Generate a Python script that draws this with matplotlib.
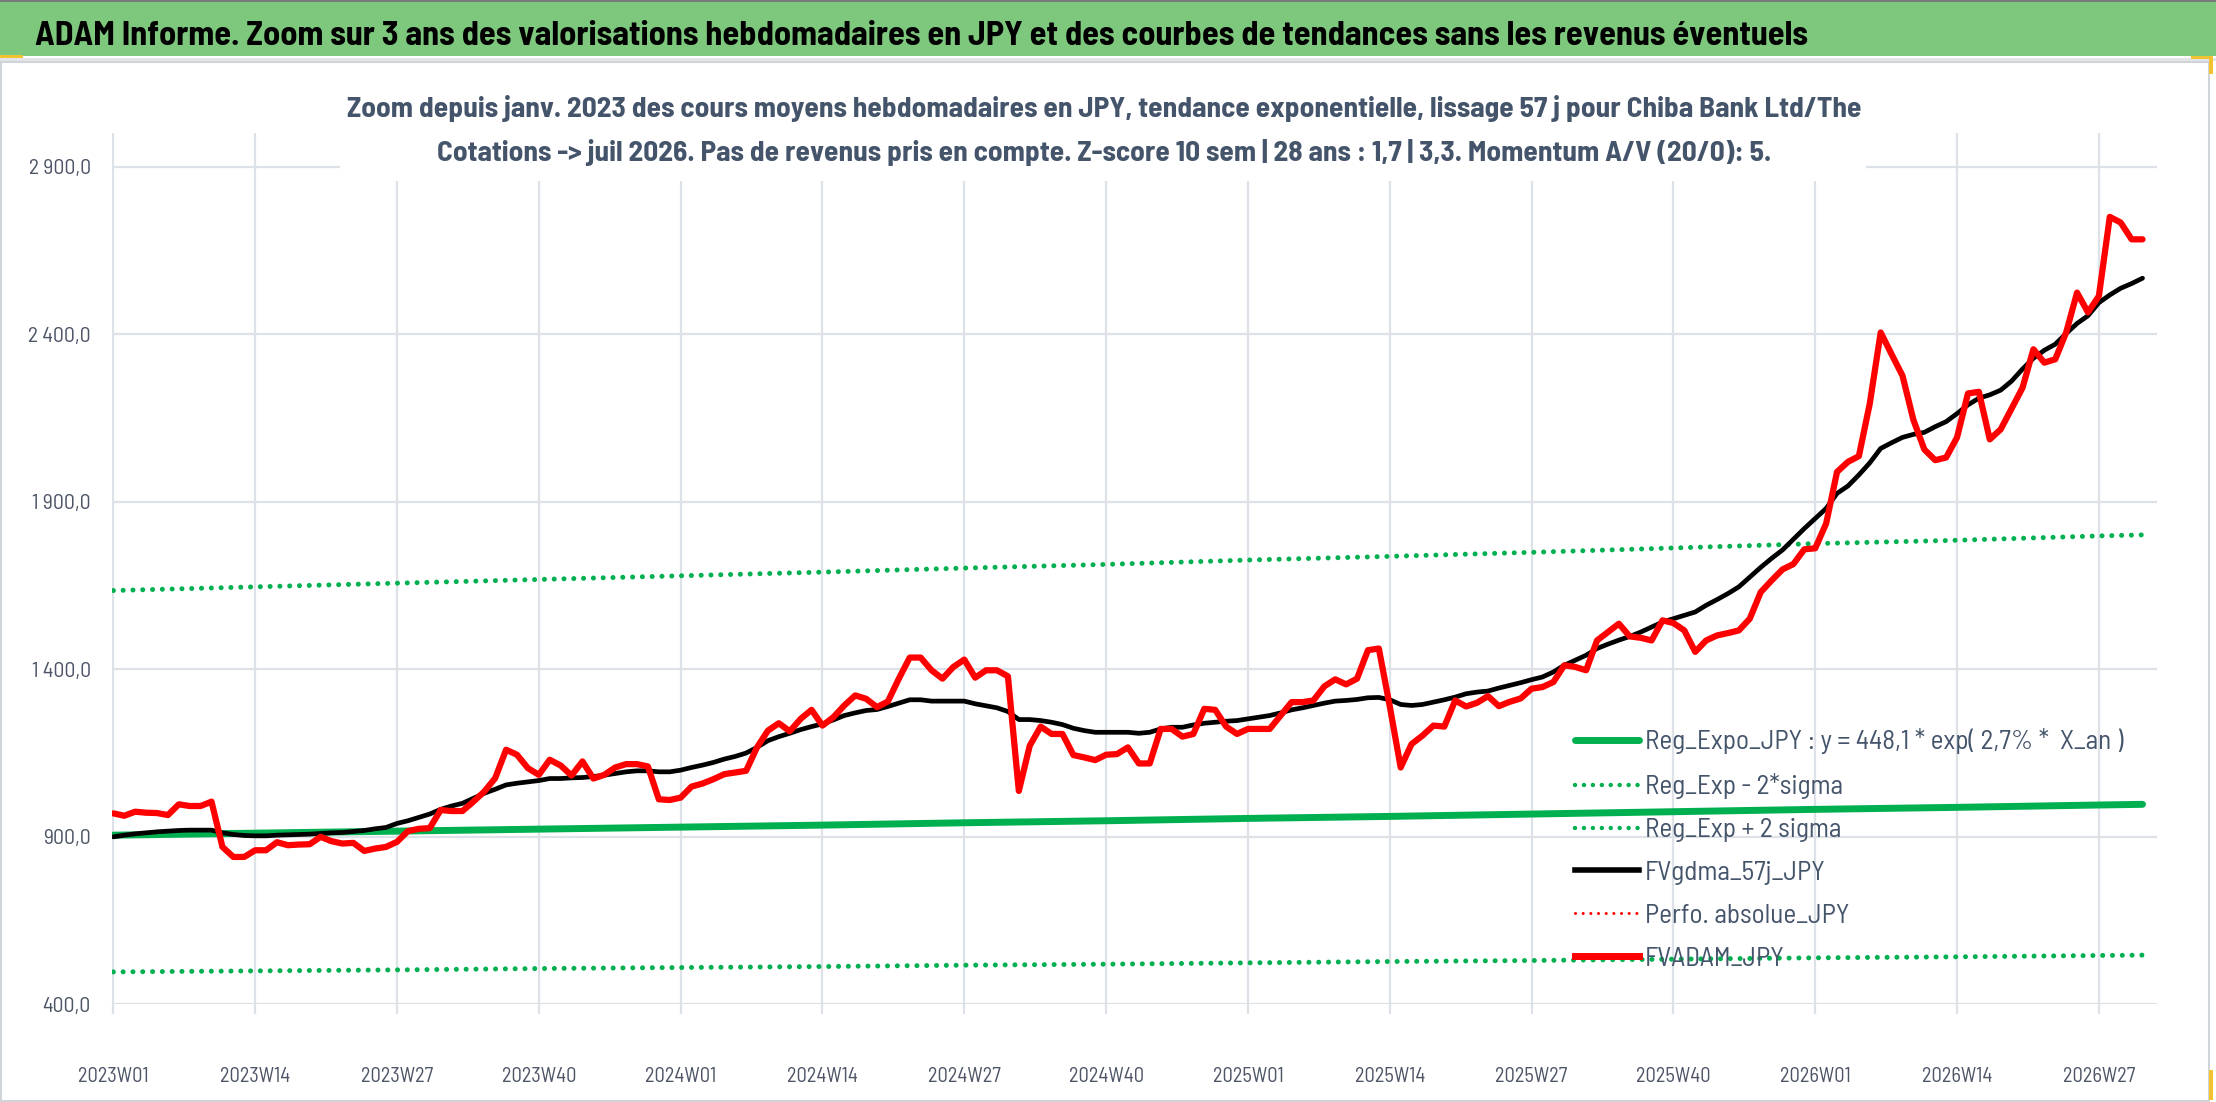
import os
import matplotlib
matplotlib.use("Agg")
import matplotlib.pyplot as plt
from matplotlib.patches import Rectangle
from matplotlib.lines import Line2D
from matplotlib.ticker import FuncFormatter, FixedLocator
from matplotlib import font_manager
from matplotlib.font_manager import FontProperties

# ---------------- data ----------------
tick_labels = ["2023W01", "2023W14", "2023W27", "2023W40", "2024W01", "2024W14",
               "2024W27", "2024W40", "2025W01", "2025W14", "2025W27", "2025W40",
               "2026W01", "2026W14", "2026W27"]

fvadam_jpy = [
    970, 963, 975, 972, 971, 965, 997, 992, 992, 1005,
    870, 840, 840, 860, 860, 884, 875, 877, 878, 900,
    887, 880, 882, 858, 865, 870, 885, 917, 924, 926,
    980, 977, 977, 1005, 1035, 1075, 1160, 1145, 1105, 1085,
    1130, 1113, 1083, 1125, 1074, 1085, 1107, 1117, 1117, 1110,
    1012, 1010, 1017, 1050, 1059, 1072, 1087, 1092, 1097, 1167,
    1217, 1239, 1215, 1252, 1279, 1232, 1257, 1292, 1322, 1312,
    1287, 1304, 1372, 1435, 1435, 1397, 1372, 1407, 1429, 1375,
    1397, 1397, 1379, 1037, 1172, 1229, 1207, 1207, 1144, 1137,
    1129, 1145, 1147, 1167, 1119, 1119, 1222, 1222, 1199, 1207,
    1282, 1279, 1229, 1207, 1222, 1222, 1222, 1262, 1302, 1302,
    1307, 1349, 1370, 1355, 1372, 1457, 1462, 1290, 1107, 1177,
    1202, 1232, 1229, 1307, 1289, 1300, 1320, 1290, 1303, 1313,
    1342, 1347, 1362, 1412, 1407, 1397, 1486, 1511, 1536, 1498,
    1494, 1486, 1546, 1538, 1516, 1452, 1486, 1501, 1508, 1516,
    1551, 1630, 1665, 1698, 1714, 1758, 1761, 1835, 1989, 2019,
    2036, 2193, 2405, 2340, 2276, 2144, 2056, 2024, 2032, 2092,
    2223, 2228, 2086, 2116, 2178, 2240, 2355, 2315, 2325, 2405,
    2524, 2465, 2514, 2750, 2733, 2683, 2683,
]

fvgdma_57j_jpy = [
    900, 905, 909, 912, 915, 917, 919, 920, 920, 920,
    912, 907, 904, 903, 903, 905, 906, 907, 908, 910,
    912, 913, 916, 919, 924, 928, 940, 948, 958, 968,
    982, 992, 1000, 1015, 1030, 1042, 1055, 1060, 1064, 1068,
    1074, 1074, 1076, 1077, 1080, 1084, 1089, 1094, 1097, 1097,
    1094, 1094, 1099, 1107, 1114, 1122, 1132, 1140, 1150, 1167,
    1187, 1199, 1209, 1220, 1229, 1237, 1249, 1262, 1270, 1277,
    1280, 1289, 1299, 1309, 1309, 1305, 1305, 1305, 1305, 1297,
    1291, 1285, 1274, 1250, 1250, 1247, 1242, 1235, 1224, 1217,
    1212, 1212, 1212, 1212, 1209, 1212, 1222, 1227, 1227, 1234,
    1239, 1242, 1245, 1247, 1252, 1257, 1262, 1270, 1279, 1285,
    1292, 1299, 1305, 1307, 1310, 1315, 1316, 1309, 1295, 1292,
    1295, 1302, 1309, 1317, 1327, 1332, 1335, 1344, 1352, 1360,
    1369, 1377, 1392, 1412, 1427, 1442, 1462, 1475, 1487, 1498,
    1511, 1526, 1541, 1551, 1561, 1571, 1591, 1608, 1626, 1646,
    1675, 1704, 1731, 1756, 1788, 1820, 1850, 1880, 1925, 1947,
    1980, 2016, 2059, 2076, 2092, 2101, 2107, 2124, 2139, 2163,
    2189, 2209, 2219, 2233, 2260, 2296, 2328, 2352, 2370, 2402,
    2432, 2455, 2494, 2517, 2537, 2551, 2567,
]

# trend lines read at the tick weeks and at the last week
trend_week_idx = [0, 13, 26, 39, 52, 65, 78, 91, 104, 117, 130, 143, 156, 169, 182, 186]
reg_expo_jpy = [905, 911, 917, 923, 929, 935, 942, 948, 955, 961, 968, 975, 982, 988, 995, 997]
reg_minus_2sigma = [497, 500, 503, 507, 510, 513, 517, 520, 524, 528, 531, 535, 539, 542, 546, 547]
reg_plus_2sigma = [1635, 1646, 1657, 1668, 1679, 1690, 1702, 1713, 1726, 1737, 1749, 1762, 1775, 1785, 1798, 1801]

legend_labels = ["Reg_Expo_JPY : y = 448,1 * exp( 2,7% *  X_an )",
                 "Reg_Exp - 2*sigma", "Reg_Exp + 2 sigma", "FVgdma_57j_JPY",
                 "Perfo. absolue_JPY", "FVADAM_JPY"]

title_text = ("ADAM Informe. Zoom sur 3 ans des valorisations hebdomadaires en JPY "
              "et des courbes de tendances sans les revenus éventuels")
subtitle_1 = ("Zoom depuis janv. 2023 des cours moyens hebdomadaires en JPY, tendance "
              "exponentielle, lissage 57 j pour Chiba Bank Ltd/The")
subtitle_2 = ("Cotations -> juil 2026. Pas de revenus pris en compte. Z-score 10 sem | "
              "28 ans : 1,7 | 3,3. Momentum A/V (20/0): 5.")


# ---------------- fonts (narrow, Calibri-like if available) ----------------
def find_narrow(bold):
    found = []
    for f in font_manager.fontManager.ttflist:
        b = os.path.basename(f.fname).lower()
        if not b.endswith((".ttf", ".otf")):
            continue
        if "italic" in b or "oblique" in b:
            continue
        is_bold = "bold" in b and "semibold" not in b and "extrabold" not in b
        if bold != is_bold:
            continue
        if not bold and any(k in b for k in ("light", "thin", "medium", "black",
                                              "semibold", "extrabold")):
            continue
        if "semicondensed" in b or "semi-condensed" in b:
            score = 0
        elif "narrow" in b:
            score = 1
        elif "condensed" in b and "extra" not in b and "ultra" not in b:
            score = 2
        else:
            continue
        if "mono" in b or ("serif" in b and "sans" not in b):
            continue
        found.append((score, b, f.fname))
    found.sort()
    return found[0][2] if found else None


reg_path = find_narrow(False)
bold_path = find_narrow(True)


def fp(bold=False, size=12):
    path = bold_path if bold else reg_path
    if path:
        return FontProperties(fname=path, size=size)
    return FontProperties(family=["Roboto", "DejaVu Sans"],
                          weight="bold" if bold else "normal", size=size)


GREEN = "#00B050"
RED = "#FF0000"
GRID = "#dde1e8"
TXT = "#44546A"
TICK = "#4d5566"

W, H = 2216, 1102
fig = plt.figure(figsize=(W / 100, H / 100), dpi=100)
fig.patch.set_facecolor("white")
renderer = fig.canvas.get_renderer()


def fit(s, target_px, bold=False):
    t = fig.text(0, 0, s, fontproperties=fp(bold, 20))
    w = t.get_window_extent(renderer).width
    t.remove()
    return 20 * target_px / w


title_size = fit(title_text, 1769, True)
sub_size = fit(subtitle_1, 1512, True)
leg_size = fit("Reg_Exp - 2*sigma", 198)
ytick_size = fit("2 900,0", 62)
xtick_size = fit("2023W01", 71)

# title bar
fig.add_artist(Rectangle((0, 1 - 56 / H), 1, 55 / H, transform=fig.transFigure,
                         facecolor="#7ec87e", edgecolor="none", zorder=0))
fig.add_artist(Rectangle((0, 1 - 1.5 / H), 1, 1.5 / H, transform=fig.transFigure,
                         facecolor="#7a7a7a", edgecolor="none", zorder=0.1))
fig.add_artist(Rectangle((0, 1 - 61 / H), 1, 3 / H, transform=fig.transFigure,
                         facecolor="#e3e5e8", edgecolor="none", zorder=0))
fig.add_artist(Rectangle((0, 1 - 58 / H), 23 / W, 3 / H, transform=fig.transFigure,
                         facecolor="#f2c230", edgecolor="none", zorder=0.5))
fig.add_artist(Rectangle((2191 / W, 1 - 59 / H), 22 / W, 3 / H, transform=fig.transFigure,
                         facecolor="#f2c230", edgecolor="none", zorder=0.5))
fig.add_artist(Rectangle((2209 / W, 1 - 74 / H), 4 / W, 16 / H, transform=fig.transFigure,
                         facecolor="#f2c230", edgecolor="none", zorder=0.5))
fig.text(35 / W, 1 - 33 / H, title_text, ha="left", va="center_baseline",
         fontproperties=fp(True, title_size), color="black")

# chart border
fig.add_artist(Rectangle((1 / W, 1 / H), 2208 / W, 1 - 63 / H, transform=fig.transFigure,
                         facecolor="none", edgecolor="#d0d3d8", lw=1.5, zorder=0.2))
fig.add_artist(Rectangle((2209 / W, 2 / H), 4 / W, 30 / H, transform=fig.transFigure,
                         facecolor="#f2c230", edgecolor="none", zorder=0.5))

x_left, x_right = 111.7, 2156.7
y_top, y_bot = 133.1, 1004.4
ax = fig.add_axes([x_left / W, 1 - y_bot / H, (x_right - x_left) / W, (y_bot - y_top) / H])
ax.set_facecolor("none")

weeks = list(range(len(fvadam_jpy)))

dot = (0, (0.01, 1.95))
ax.plot(trend_week_idx, reg_expo_jpy, color=GREEN, lw=5.0, solid_capstyle="round", zorder=3)
ax.plot(trend_week_idx, reg_minus_2sigma, color=GREEN, lw=3.6, linestyle=dot,
        dash_capstyle="round", zorder=3)
ax.plot(trend_week_idx, reg_plus_2sigma, color=GREEN, lw=3.6, linestyle=dot,
        dash_capstyle="round", zorder=3)
ax.plot(weeks, fvgdma_57j_jpy, color="black", lw=3.4, solid_joinstyle="round",
        solid_capstyle="round", zorder=4)
ax.plot(weeks, fvadam_jpy, color=RED, lw=4.5, solid_joinstyle="round",
        solid_capstyle="round", zorder=5)

ax.set_xlim(-0.15, 187.3)
ax.set_ylim(400, 3000)
tick_pos = [13 * i for i in range(len(tick_labels))]
ax.xaxis.set_major_locator(FixedLocator(tick_pos))
ax.set_xticklabels(tick_labels)
ax.yaxis.set_major_locator(FixedLocator([400, 900, 1400, 1900, 2400, 2900]))
ax.yaxis.set_major_formatter(FuncFormatter(
    lambda v, p: f"{v:,.1f}".replace(",", " ").replace(".", ",")))
ax.grid(True, color=GRID, lw=1.6, zorder=0)
ax.set_axisbelow(True)
for s in ax.spines.values():
    s.set_visible(False)
ax.tick_params(axis="x", length=7, width=1.6, color=GRID, pad=38,
               labelcolor=TICK, direction="out")
ax.tick_params(axis="y", length=0, pad=15, labelcolor=TICK)
for lbl in ax.get_xticklabels():
    lbl.set_fontproperties(fp(False, xtick_size))
for lbl in ax.get_yticklabels():
    lbl.set_fontproperties(fp(False, ytick_size))

# subtitle box (white, covers gridlines)
fig.add_artist(Rectangle((340 / W, 1 - 181 / H), (1866 - 340) / W, (181 - 82) / H,
                         transform=fig.transFigure, facecolor="white", edgecolor="none",
                         zorder=2))
fig.text(1104 / W, 1 - 108 / H, subtitle_1, ha="center", va="center",
         fontproperties=fp(True, sub_size), color=TXT, zorder=3)
fig.text(1104 / W, 1 - 153 / H, subtitle_2, ha="center", va="center",
         fontproperties=fp(True, sub_size), color=TXT, zorder=3)

# legend
handles = [
    Line2D([], [], color=GREEN, lw=5.0, solid_capstyle="round"),
    Line2D([], [], color=GREEN, lw=3.2, linestyle=(0, (0.01, 2.0)), dash_capstyle="round"),
    Line2D([], [], color=GREEN, lw=3.2, linestyle=(0, (0.01, 2.0)), dash_capstyle="round"),
    Line2D([], [], color="black", lw=4.0),
    Line2D([], [], color=RED, lw=2.2, linestyle=(0, (0.01, 2.5)), dash_capstyle="round"),
    Line2D([], [], color=RED, lw=5.0),
]
row_pt = 43 * 0.72
leg = fig.legend(handles, legend_labels, loc="center left",
                 bbox_to_anchor=(1575 / W, 1 - 849.5 / H), bbox_transform=fig.transFigure,
                 frameon=False, prop=fp(False, leg_size),
                 handlelength=46 / leg_size, handletextpad=4.3 / leg_size,
                 labelspacing=(row_pt - 1.2 * leg_size + 6.1) / leg_size,
                 borderpad=0, borderaxespad=0)
for t in leg.get_texts():
    t.set_color(TXT)

fig.savefig("out.png", dpi=100)
